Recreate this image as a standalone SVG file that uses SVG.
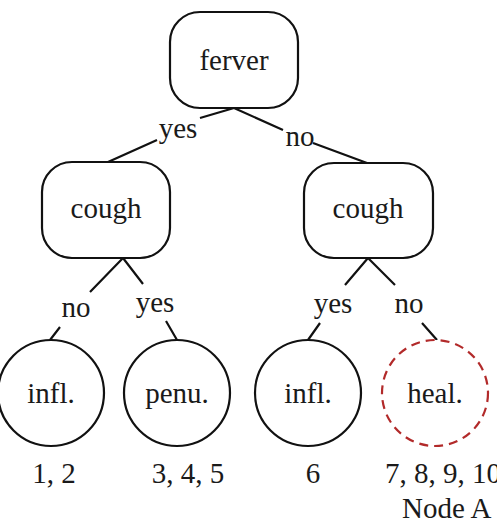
<svg xmlns="http://www.w3.org/2000/svg" width="497" height="524" viewBox="0 0 497 524">
<style>
text{font-family:"Liberation Serif","Times New Roman",serif;font-size:29px;fill:#1a1a1a;text-anchor:middle}
.box{fill:#fff;stroke:#111;stroke-width:2.2}
.leaf{fill:#fff;stroke:#111;stroke-width:2.2}
.dash{fill:#fff;stroke:#b22a2a;stroke-width:2.2;stroke-dasharray:9 6}
.edge{stroke:#111;stroke-width:2.2;fill:none}
</style>
<rect width="497" height="524" fill="#fff"/>
<g id="connectors">
<path class="edge" d="M234 108 L200 118 M157 140 L108 162"/>
<path class="edge" d="M234 108 L283 130 M313 143 L367 163"/>
<path class="edge" d="M123 258 L90 292 M60 327 L50 340"/>
<path class="edge" d="M123 258 L143 284 M166 321 L177 340"/>
<path class="edge" d="M368 258 L345 285 M320 323 L308 340"/>
<path class="edge" d="M368 258 L395 285 M422 323 L437 340"/>
<text x="178" y="138">yes</text>
<text x="300" y="146">no</text>
<text x="76" y="317">no</text>
<text x="155" y="312">yes</text>
<text x="333" y="313">yes</text>
<text x="409" y="313">no</text>
</g>
<g id="fever"><rect class="box" x="170" y="12" width="128" height="96" rx="30"/><text x="234" y="70">ferver</text></g>
<g id="cough-left"><rect class="box" x="42" y="162" width="128" height="96" rx="30"/><text x="106" y="218">cough</text></g>
<g id="cough-right"><rect class="box" x="304" y="163" width="129" height="95" rx="30"/><text x="368" y="218">cough</text></g>
<g id="infl-left"><circle class="leaf" cx="51" cy="393" r="53"/><text x="51" y="403">infl.</text><text x="54" y="483">1, 2</text></g>
<g id="penu"><circle class="leaf" cx="177" cy="393" r="53"/><text x="177" y="403">penu.</text><text x="188" y="483">3, 4, 5</text></g>
<g id="infl-right"><circle class="leaf" cx="308" cy="393" r="53"/><text x="308" y="403">infl.</text><text x="313" y="483">6</text></g>
<g id="heal"><circle class="dash" cx="435" cy="393" r="53"/><text x="435" y="403">heal.</text><text x="385" y="483" style="text-anchor:start">7, 8, 9, 10</text><text x="402" y="518" style="text-anchor:start">Node A</text></g>
</svg>
